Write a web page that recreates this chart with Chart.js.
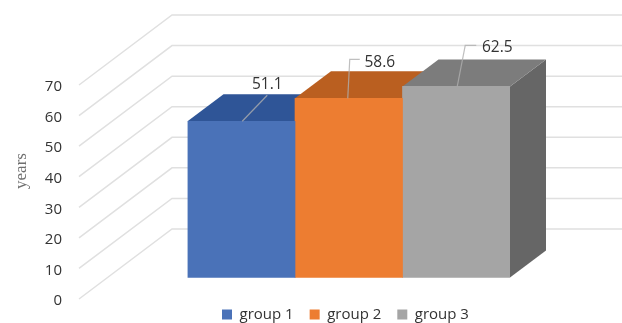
<!DOCTYPE html>
<html>
<head>
<meta charset="utf-8">
<style>
    html, body { margin: 0; padding: 0; background: #fff; }
    canvas { display: block; }
</style>
<script src="https://cdn.jsdelivr.net/npm/chart.js@4/dist/chart.umd.min.js"></script>
</head>
<body>
<canvas id="ageChart" width="622" height="323"></canvas>
<script>
const GROUP_LABELS = ['group 1', 'group 2', 'group 3'];
const GROUP_VALUES = [51.1, 58.6, 62.5];
const AXIS_MIN = 0;
const AXIS_MAX = 70;
const AXIS_STEP = 10;

const FRONT_COLORS = ['#4a72b8', '#ed7d31', '#a5a5a5'];
const TOP_COLORS   = ['#2f5597', '#ba5f20', '#7c7c7c'];
const SIDE_COLORS  = ['#264478', '#9e480e', '#666666'];

// fake 3d: how far the bars and the wall are pushed back
const BAR_DEPTH_X = 36;
const BAR_DEPTH_Y = 27;
const WALL_DEPTH_X = 93;
const WALL_DEPTH_Y = 70;
const WALL_LEFT = 79;

// bars stand a little behind the front edge of the floor
const FLOOR_OFFSET = 7.03;

const TEXT_COLOR = '#333333';
const GRID_COLOR = '#e0e0e0';
const LEADER_COLOR = 'rgba(175, 175, 175, 0.8)';
const FONT_FAMILY = '"Open Sans", sans-serif';

// leader line points and label centre, relative to the middle of each bar's top edge
const LEADERS = [
    { line: [[1, 0], [26, -26]], label: [26, -37] },
    { line: [[-1, 0], [1, -39], [11, -39]], label: [31, -36] },
    { line: [[1, 0], [9, -41], [20, -41]], label: [41, -39] }
];

function drawPolygon(ctx, points, color) {
    ctx.fillStyle = color;
    ctx.beginPath();
    points.forEach(([x, y], i) => i ? ctx.lineTo(x, y) : ctx.moveTo(x, y));
    ctx.closePath();
    ctx.fill();
}

const wallPlugin = {
    id: 'wall',
    afterLayout(chart) {
        // legend sits closer to the plot and starts under the bars
        const legend = chart.legend;
        legend.left = 222 - legend.options.labels.padding;
        legend.top = 307 - legend.options.labels.padding;
        legend.right = chart.width;
        legend.bottom = chart.height;
    },
    beforeDatasetsDraw(chart) {
        const ctx = chart.ctx;
        const y = chart.scales.y;

        ctx.save();
        ctx.strokeStyle = GRID_COLOR;
        ctx.lineWidth = 1.5;
        y.ticks.forEach(tick => {
            const py = y.getPixelForValue(tick.value);
            ctx.beginPath();
            ctx.moveTo(WALL_LEFT, py);
            ctx.lineTo(WALL_LEFT + WALL_DEPTH_X, py - WALL_DEPTH_Y);
            ctx.lineTo(chart.width, py - WALL_DEPTH_Y);
            ctx.stroke();
        });

        // side and top faces go under the fronts, later bars over earlier ones
        GROUP_VALUES.forEach((value, i) => {
            const bar = chart.getDatasetMeta(i).data[0];
            const left = bar.x - bar.width / 2;
            const right = bar.x + bar.width / 2;
            drawPolygon(ctx, [
                [right, bar.y],
                [right + BAR_DEPTH_X, bar.y - BAR_DEPTH_Y],
                [right + BAR_DEPTH_X, bar.base - BAR_DEPTH_Y],
                [right, bar.base]
            ], SIDE_COLORS[i]);
            drawPolygon(ctx, [
                [left, bar.y],
                [right, bar.y],
                [right + BAR_DEPTH_X, bar.y - BAR_DEPTH_Y],
                [left + BAR_DEPTH_X, bar.y - BAR_DEPTH_Y]
            ], TOP_COLORS[i]);
        });
        ctx.restore();
    },
    afterDatasetsDraw(chart) {
        const ctx = chart.ctx;

        ctx.save();
        ctx.font = '15.5px ' + FONT_FAMILY;
        ctx.textAlign = 'center';
        ctx.textBaseline = 'middle';
        GROUP_VALUES.forEach((value, i) => {
            const bar = chart.getDatasetMeta(i).data[0];
            const leader = LEADERS[i];

            ctx.strokeStyle = LEADER_COLOR;
            ctx.lineWidth = 1.2;
            ctx.beginPath();
            leader.line.forEach(([dx, dy], j) => {
                if (j) ctx.lineTo(bar.x + dx, bar.y + dy);
                else ctx.moveTo(bar.x + dx, bar.y + dy);
            });
            ctx.stroke();

            ctx.fillStyle = TEXT_COLOR;
            ctx.fillText(value.toFixed(1), bar.x + leader.label[0], bar.y + leader.label[1]);
        });

        // axis title sits above the middle of the axis
        ctx.translate(22, 171);
        ctx.rotate(-Math.PI / 2);
        ctx.font = '17px "Liberation Serif", serif';
        ctx.fillStyle = '#6f6f6f';
        ctx.fillText('years', 0, 0);
        ctx.restore();
    }
};

const datasets = GROUP_LABELS.map((label, i) => ({
    label: label,
    data: [GROUP_VALUES[i]],
    backgroundColor: FRONT_COLORS[i],
    borderWidth: 0,
    barPercentage: 1,
    categoryPercentage: 1,
    yAxisID: 'barY'
}));

new Chart(document.getElementById('ageChart'), {
    type: 'bar',
    plugins: [wallPlugin],
    data: { labels: [''], datasets: datasets },
    options: {
        responsive: false,
        animation: false,
        layout: { padding: { top: 85, right: 112 } },
        plugins: {
            tooltip: { enabled: false },
            legend: {
                position: 'bottom',
                align: 'start',
                maxHeight: 24,
                labels: {
                    boxWidth: 10,
                    boxHeight: 10,
                    padding: 16,
                    color: TEXT_COLOR,
                    font: { family: FONT_FAMILY, size: 15 }
                }
            }
        },
        scales: {
            x: { display: false },
            y: {
                position: 'left',
                min: AXIS_MIN,
                max: AXIS_MAX,
                afterFit(scale) {
                    // labels stand far left of the bars, the big tick padding must not eat the height
                    scale.width = 187.5;
                    scale.paddingTop = 0;
                    scale.paddingBottom = 0;
                },
                grid: { display: false, drawTicks: false },
                border: { display: false },
                ticks: {
                    stepSize: AXIS_STEP,
                    padding: 125.5,
                    labelOffset: 2,
                    color: TEXT_COLOR,
                    font: { family: FONT_FAMILY, size: 15 }
                }
            },
            // same span as y, slid so value 0 lands on the bars' floor line
            barY: {
                display: false,
                min: AXIS_MIN - FLOOR_OFFSET,
                max: AXIS_MAX - FLOOR_OFFSET
            }
        }
    }
});
</script>
</body>
</html>
